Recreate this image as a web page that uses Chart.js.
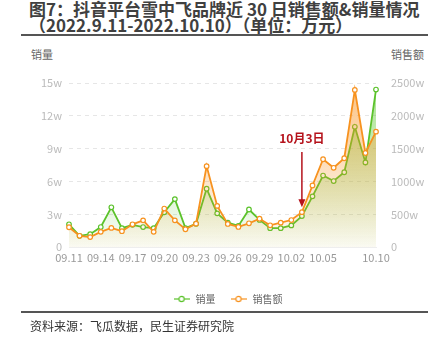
<!DOCTYPE html>
<html>
<head>
<meta charset="utf-8">
<script src="https://cdn.jsdelivr.net/npm/chart.js@4"></script>
<style>
  body { margin: 0; width: 432px; height: 341px; background: #fff; position: relative; overflow: hidden;
         font-family: "Noto Sans CJK SC", "Noto Sans", sans-serif; }
  .title { position: absolute; left: 29px; top: 1px; font-size: 17px; font-weight: bold; color: #404040; line-height: 16px; white-space: nowrap; }
  .rule { position: absolute; left: 21px; width: 407px; height: 2px; background: #555; }
  .axt { position: absolute; font-size: 11px; color: #666; top: 46px; }
  .src { position: absolute; left: 30px; top: 317px; font-size: 12px; color: #333; }
  #wrap { position: absolute; left: 0; top: 36px; width: 432px; height: 278px; }
</style>
</head>
<body>
<div class="title">图7：抖音平台雪中飞品牌近 30 日销售额&amp;销量情况<br>（2022.9.11-2022.10.10）（单位：万元）</div>
<div class="rule" style="top:34px"></div>
<div class="axt" style="left:31px">销量</div>
<div class="axt" style="right:8px">销售额</div>
<div id="wrap"><canvas id="c"></canvas></div>
<div class="rule" style="top:311px"></div>
<div class="src">资料来源：飞瓜数据，民生证券研究院</div>
<script>
var dates = ['09.11','09.12','09.13','09.14','09.15','09.16','09.17','09.18','09.19','09.20',
  '09.21','09.22','09.23','09.24','09.25','09.26','09.27','09.28','09.29','09.30',
  '10.01','10.02','10.03','10.04','10.05','10.06','10.07','10.08','10.09','10.10']
// 销量 (万)
var volume = [2.1, 1.05, 1.2, 1.85, 3.65, 1.75, 2.05, 1.85, 1.75, 3.2,
  4.4, 1.75, 2.15, 5.35, 3.1, 2.25, 1.95, 3.45, 2.5, 1.75,
  1.75, 2.0, 2.85, 4.65, 6.55, 6.05, 6.85, 11.0, 7.75, 14.4]
// 销售额 (万元)
var sales = [305, 175, 155, 235, 295, 245, 350, 410, 235, 590,
  410, 275, 360, 1235, 630, 355, 310, 365, 435, 335,
  375, 415, 535, 940, 1340, 1210, 1355, 2395, 1435, 1760]
var shownTicks = ['09.11','09.14','09.17','09.20','09.23','09.26','09.29','10.02','10.05','10.10']
var noteIndex = 22
var noteText = '10月3日'

var green = '#5bc22b'
var orange = '#f7921f'

function gradient(ctx, rgb) {
  var area = ctx.chart.chartArea
  if (!area) return 'rgba(' + rgb + ',0.2)'
  var g = ctx.chart.ctx.createLinearGradient(0, area.top, 0, area.bottom)
  g.addColorStop(0, 'rgba(' + rgb + ',0.55)')
  g.addColorStop(1, 'rgba(' + rgb + ',0.03)')
  return g
}

function legendIcon(color) {
  var cv = document.createElement('canvas')
  cv.width = 16; cv.height = 8
  var c = cv.getContext('2d')
  c.strokeStyle = color; c.lineWidth = 1.2
  c.beginPath(); c.moveTo(0, 4); c.lineTo(16, 4); c.stroke()
  c.fillStyle = '#fff'
  c.beginPath(); c.arc(8, 4, 2.6, 0, Math.PI * 2); c.fill(); c.stroke()
  return cv
}

var notePlugin = {
  id: 'note',
  afterDatasetsDraw: function(chart) {
    var c = chart.ctx
    var x = chart.scales.x.getPixelForValue(noteIndex)
    var tip = chart.scales.y1.getPixelForValue(sales[noteIndex]) - 5
    var top = chart.chartArea.top + 69
    c.save()
    c.fillStyle = '#b5121b'
    c.strokeStyle = '#b5121b'
    c.font = 'bold 12px "Noto Sans CJK SC"'
    c.textAlign = 'center'
    c.textBaseline = 'middle'
    c.fillText(noteText, x, chart.chartArea.top + 55)
    c.lineWidth = 1.5
    c.beginPath(); c.moveTo(x, top); c.lineTo(x, tip - 7); c.stroke()
    c.beginPath(); c.moveTo(x - 3.5, tip - 8); c.lineTo(x + 3.5, tip - 8); c.lineTo(x, tip); c.closePath(); c.fill()
    c.restore()
  }
}

new Chart(document.getElementById('c').getContext('2d'), {
  type: 'line',
  data: {
    labels: dates,
    datasets: [
      {
        label: '销量', data: volume, yAxisID: 'y', order: 1,
        borderColor: green, borderWidth: 1.8, tension: 0,
        pointRadius: 2.3, pointBorderWidth: 1.2, pointBackgroundColor: '#fff', pointBorderColor: green,
        fill: 'origin', backgroundColor: function(ctx) { return gradient(ctx, '95,200,50') }
      },
      {
        label: '销售额', data: sales, yAxisID: 'y1', order: 0,
        borderColor: orange, borderWidth: 1.8, tension: 0,
        pointRadius: 2.3, pointBorderWidth: 1.2, pointBackgroundColor: '#fff', pointBorderColor: orange,
        fill: 'origin', backgroundColor: function(ctx) { return gradient(ctx, '247,146,31') }
      }
    ]
  },
  options: {
    responsive: true,
    maintainAspectRatio: false,
    animation: false,
    layout: { padding: { top: 47, left: 23, right: 0, bottom: 0 } },
    plugins: {
      tooltip: { enabled: false },
      legend: {
        position: 'bottom',
        labels: {
          usePointStyle: true, pointStyleWidth: 18, padding: 14, color: '#666',
          font: { size: 10, family: '"Noto Sans CJK SC"' },
          sort: function(a, b) { return a.datasetIndex - b.datasetIndex },
          generateLabels: function(chart) {
            return chart.data.datasets.map(function(ds, i) {
              return { text: ds.label, datasetIndex: i, pointStyle: legendIcon(ds.borderColor),
                       fontColor: '#666', strokeStyle: ds.borderColor, fillStyle: '#fff', lineWidth: 0 }
            })
          }
        }
      }
    },
    scales: {
      x: {
        grid: { display: false, drawTicks: false },
        border: { color: '#eeeeee' },
        afterFit: function(s) { s.height = 32.7 },
        ticks: {
          autoSkip: false, maxRotation: 0, padding: 4, color: '#999',
          font: { size: 11, family: '"Noto Sans CJK SC"' },
          callback: function(v, i) { return shownTicks.indexOf(dates[i]) >= 0 ? dates[i] : '' }
        }
      },
      y: {
        position: 'left', min: 0, max: 15,
        afterFit: function(s) { s.width = 46 },
        border: { display: false, dash: [4, 4] },
        grid: { color: '#e6e6e6', drawTicks: false, lineWidth: 1, borderDash: [4, 4] },
        ticks: {
          stepSize: 3, padding: 7, color: '#bbb', font: { size: 11, family: '"Noto Sans CJK SC"' },
          callback: function(v) { return v === 0 ? '0' : v + 'w' }
        }
      },
      y1: {
        position: 'right', min: 0, max: 2500,
        afterFit: function(s) { s.width = 56 },
        border: { display: false },
        grid: { display: false },
        ticks: {
          stepSize: 500, padding: 7, color: '#bbb', font: { size: 11, family: '"Noto Sans CJK SC"' },
          callback: function(v) { return v === 0 ? '0' : v + 'w' }
        }
      }
    }
  },
  plugins: [notePlugin]
})
</script>
</body>
</html>
